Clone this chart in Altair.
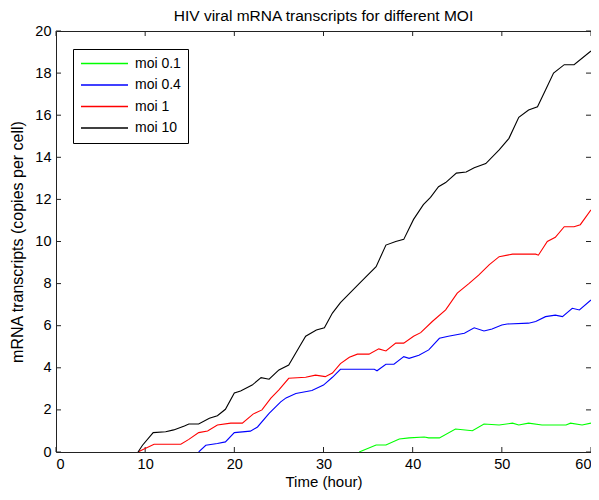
import altair as alt
import pandas as pd

series_names = ["moi 0.1", "moi 0.4", "moi 1", "moi 10"]
series_colors = ["#00ff00", "#0000ff", "#ff0000", "#000000"]
title_text = "HIV viral mRNA transcripts for different MOI"

x_moi10 = [9.2, 9.7, 10.9, 12.3, 13.2, 14.4, 14.9, 16, 17.2, 18.1, 19, 20, 20.7, 22, 23, 23.9, 25, 26.1,
           27.3, 28, 29.2, 30.1, 31, 31.9, 34, 35.9, 37, 38.1, 39, 40.1, 41.2, 42, 42.9, 43.7, 44.9, 46,
           46.9, 48.2, 49.7, 50.8, 51.9, 53, 54, 54.9, 55.8, 57, 58.1, 60]
y_moi10 = [0, 0.32, 0.92, 0.96, 1.05, 1.24, 1.33, 1.33, 1.6, 1.72, 2.03, 2.8, 2.9, 3.18, 3.53, 3.46, 3.9, 4.13,
           5.0, 5.5, 5.8, 5.9, 6.6, 7.1, 8.0, 8.8, 9.83, 10.0, 10.1, 11.05, 11.75, 12.1, 12.6, 12.8, 13.25, 13.3,
           13.5, 13.7, 14.35, 14.9, 15.9, 16.25, 16.4, 17.2, 18.0, 18.4, 18.4, 19.05]

x_moi1 = [9.2, 9.7, 11, 14, 14.9, 16, 17, 18.1, 19.6, 20.9, 22.1, 23.1, 24.1, 25, 26.1, 28, 29.1, 30.2, 31,
          31.9, 32.9, 33.8, 35.1, 36.2, 37, 38.1, 39, 40.1, 40.9, 42.2, 43.7, 45, 46.3, 47.4, 48.6, 49.7,
          51.2, 53.8, 54.1, 55.1, 56, 57, 58.1, 58.8, 60]
y_moi1 = [0, 0.11, 0.37, 0.37, 0.6, 0.92, 1.0, 1.28, 1.37, 1.37, 1.8, 2.0, 2.56, 2.95, 3.5, 3.55, 3.65, 3.58, 3.75,
          4.2, 4.5, 4.65, 4.65, 4.9, 4.8, 5.17, 5.17, 5.5, 5.67, 6.2, 6.75, 7.55, 8.0, 8.4, 8.9, 9.28,
          9.4, 9.4, 9.35, 10.0, 10.2, 10.7, 10.7, 10.8, 11.5]

x_moi04 = [16, 16.8, 18.1, 19, 20, 21.8, 22.6, 23.9, 25.2, 25.8, 26.9, 28.7, 30, 31, 31.9, 35.7, 36, 37, 37.9,
           39, 39.6, 40.7, 41.8, 43, 44, 45.8, 46.9, 48, 48.9, 50, 50.6, 53, 53.8, 54.9, 56, 56.8, 57.9, 58.7, 60]
y_moi04 = [0, 0.32, 0.4, 0.48, 0.92, 0.99, 1.19, 1.83, 2.38, 2.57, 2.78, 2.92, 3.18, 3.55, 3.93, 3.93, 3.86, 4.17, 4.17,
           4.53, 4.45, 4.6, 4.85, 5.4, 5.5, 5.64, 5.9, 5.75, 5.84, 6.03, 6.08, 6.12, 6.2, 6.43, 6.5, 6.43, 6.83, 6.75, 7.22]

x_moi01 = [34, 35.9, 37, 38.5, 39.6, 41.3, 41.8, 43, 44.8, 46.7, 48, 49.7, 51.2, 51.9, 53, 54.5, 57.2, 57.7, 59, 60]
y_moi01 = [0, 0.33, 0.33, 0.62, 0.67, 0.71, 0.67, 0.67, 1.09, 1.01, 1.33, 1.28, 1.37, 1.28, 1.37, 1.28, 1.28, 1.37, 1.28, 1.37]

x_ticks = [0, 10, 20, 30, 40, 50, 60]
y_ticks = [0, 2, 4, 6, 8, 10, 12, 14, 16, 18, 20]

rows = []
for name, xs_, ys_ in [("moi 0.1", x_moi01, y_moi01), ("moi 0.4", x_moi04, y_moi04),
                       ("moi 1", x_moi1, y_moi1), ("moi 10", x_moi10, y_moi10)]:
    for i, (a, b) in enumerate(zip(xs_, ys_)):
        rows.append({"series": name, "t": a, "v": b, "order": i})
df = pd.DataFrame(rows)

W, H = 535, 421
FONT = "Liberation Sans"

xs = alt.Scale(domain=[0, 60], nice=False, zero=False)
ys = alt.Scale(domain=[0, 20], nice=False, zero=False)

lines = alt.Chart(df).mark_line(strokeWidth=1.1, clip=True).encode(
    x=alt.X("t:Q", scale=xs, axis=alt.Axis(values=x_ticks, title="Time (hour)", ticks=False, domain=False,
                                           grid=False, labelPadding=5, titlePadding=4, format="d",
                                           titleFontSize=15)),
    y=alt.Y("v:Q", scale=ys, axis=alt.Axis(values=y_ticks, title="mRNA transcripts (copies per cell)",
                                           ticks=False, domain=False, grid=False, labelPadding=5,
                                           titlePadding=9, format="d", titleFontSize=16)),
    color=alt.Color("series:N", scale=alt.Scale(domain=series_names, range=series_colors),
                    legend=alt.Legend(title=None, orient="none", legendX=17, legendY=18,
                                      symbolType="stroke", symbolSize=2209, symbolStrokeWidth=1.5,
                                      clipHeight=15, rowPadding=6.5,
                                      labelFontSize=14, labelFont=FONT, labelColor="#000",
                                      strokeColor="#000", fillColor="#fff", padding=7,
                                      labelOffset=6)),
    detail="series:N",
    order="order:Q",
)

xt = pd.DataFrame({"t": x_ticks})
yt = pd.DataFrame({"v": y_ticks})
tick_style = dict(color="#222", strokeWidth=1)
xb = alt.Chart(xt).mark_rule(**tick_style).encode(x=alt.X("t:Q", scale=xs), y=alt.value(H), y2=alt.value(H - 5))
xtp = alt.Chart(xt).mark_rule(**tick_style).encode(x=alt.X("t:Q", scale=xs), y=alt.value(0), y2=alt.value(5))
yl = alt.Chart(yt).mark_rule(**tick_style).encode(y=alt.Y("v:Q", scale=ys), x=alt.value(0), x2=alt.value(5))
yr = alt.Chart(yt).mark_rule(**tick_style).encode(y=alt.Y("v:Q", scale=ys), x=alt.value(W), x2=alt.value(W - 5))

title = alt.Chart(pd.DataFrame({"label": [title_text]})).mark_text(
    font=FONT, fontSize=15.5, color="#000", baseline="alphabetic", align="center"
).encode(text="label:N", x=alt.value(W / 2), y=alt.value(-10))

chart = alt.layer(xb, xtp, yl, yr, lines, title).properties(
    width=W, height=H,
    autosize=alt.AutoSizeParams(type="none"),
    padding={"left": 48, "top": 23, "right": 0, "bottom": 40},
).configure_view(stroke="#222", strokeWidth=1).configure_axis(
    labelFont=FONT, labelFontSize=14.5, labelColor="#000", titleFont=FONT,
    titleFontWeight="normal", titleColor="#000"
)

chart.save("out.html", embed_options={"renderer": "svg", "actions": False})
